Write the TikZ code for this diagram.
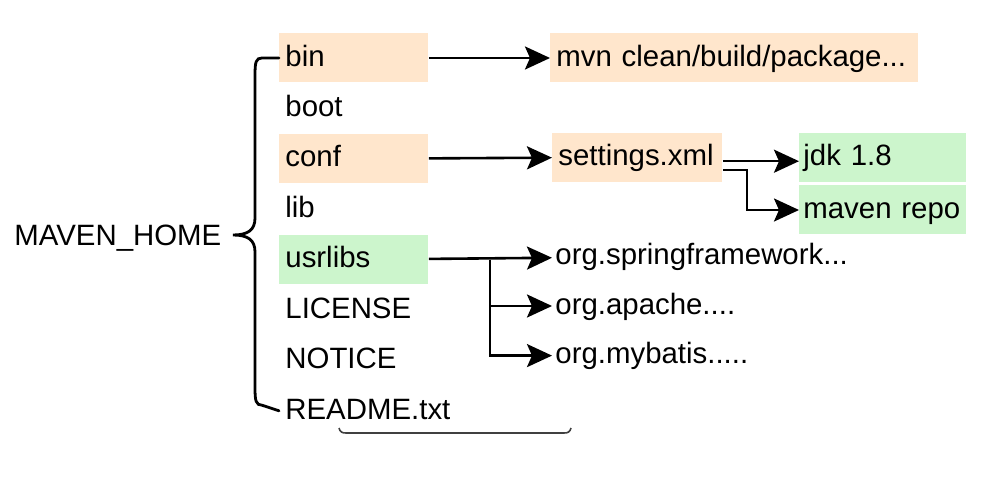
\documentclass[tikz,border=0pt]{standalone}
\usepackage{fontspec}
\setmainfont{Liberation Sans}
\usepackage{tikz}
\usetikzlibrary{arrows.meta, positioning}
\definecolor{PP}{RGB}{255, 230, 204}
\definecolor{GG}{RGB}{204, 245, 204}
\tikzset{
    item/.style={anchor=west, inner xsep=3pt, inner ysep=0pt, minimum height=24.5pt, text height=0.82em, text depth=0pt, font=\fontsize{14.7}{17}\selectfont},
    link/.style={line width=1.3pt, -{Stealth[length=12.5pt, width=11.5pt, inset=2.5pt]}},
    brace/.style={line width=1.4pt, line cap=round},
}

\begin{document}
\begin{tikzpicture}[
  x=0.5pt, y=-0.5pt,
  node distance=0.3pt, % 左侧各行的间隔
  dir/.style={item, text width=68.5pt},
  pkg/.style={item, inner xsep=1.5pt},
  NodeP/.style={fill=PP},
  NodeG/.style={fill=GG},
  ]
\useasboundingbox (0,0) rectangle (995,497);

\node[anchor=west, inner sep=0pt, text depth=0pt, font=\fontsize{14.7}{17}\selectfont] (home) at (14,235) {MAVEN\_HOME};

% left column
\node[dir, NodeP] (bin) at (279,58) {bin};
\node[dir, below=of bin] (boot) {boot};
\node[dir, NodeP, below=of boot] (conf) {conf};
\node[dir, below=of conf] (lib) {lib};
\node[dir, NodeG, below=of lib] (usrlibs) {usrlibs};
\node[dir, below=of usrlibs] (license) {LICENSE};
\node[dir, below=of license] (notice) {NOTICE};
\node[dir, below=of notice] (readme) {README.txt};

% right column
\node[item, NodeP, text width=178pt] (mvn) at (550,58) {mvn clean/build/package...};
\node[item, NodeP, text width=79pt] (settings) at (552,157.2) {settings.xml};
\node[item, NodeG, text width=79.5pt, inner xsep=2pt] (jdk) at (799,157.2) {jdk 1.8};
\node[item, NodeG, text width=79.5pt, inner xsep=2pt, below=1.5pt of jdk] (repo) {maven repo};
\node[pkg] (spring) at (552,256.4) {org.springframework...};
\node[pkg] (apache) at (552,306) {org.apache....};
\node[pkg] (mybatis) at (552,355.6) {org.mybatis.....};

\coordinate (tip) at (233,235);
\coordinate (fork) at ([xshift=30.5pt]usrlibs.east);

\draw[brace] (bin.west) -- (262,58) .. controls (256,58) and (255,62) .. (255,75) -- (255,218)
    .. controls (255,230) and (248,235) .. (tip)
    .. controls (248,235) and (255,240) .. (255,252) -- (255,388)
    .. controls (255,401) and (256,405.2) .. (262,405.2) -- (readme.west);

\draw[link] (bin) -- (mvn);
\draw[link] (conf) -- (settings);
\draw[link] ([yshift=-2pt]settings.east) -- ([yshift=-2pt]jdk.west);
\draw[link] ([yshift=-6.5pt]settings.east) -- ++(12pt,0) |- (repo.west);
\draw[link] (usrlibs) -- (spring);
\draw[link] (fork) |- (apache.west);
\draw[link] (fork) |- (mybatis.west);

\draw[line width=0.8pt, black!75] (339,428) .. controls (340,432) and (342,433) .. (346,433) -- (564,433) .. controls (568,433) and (570,432) .. (571,428);

\end{tikzpicture}
\end{document}
